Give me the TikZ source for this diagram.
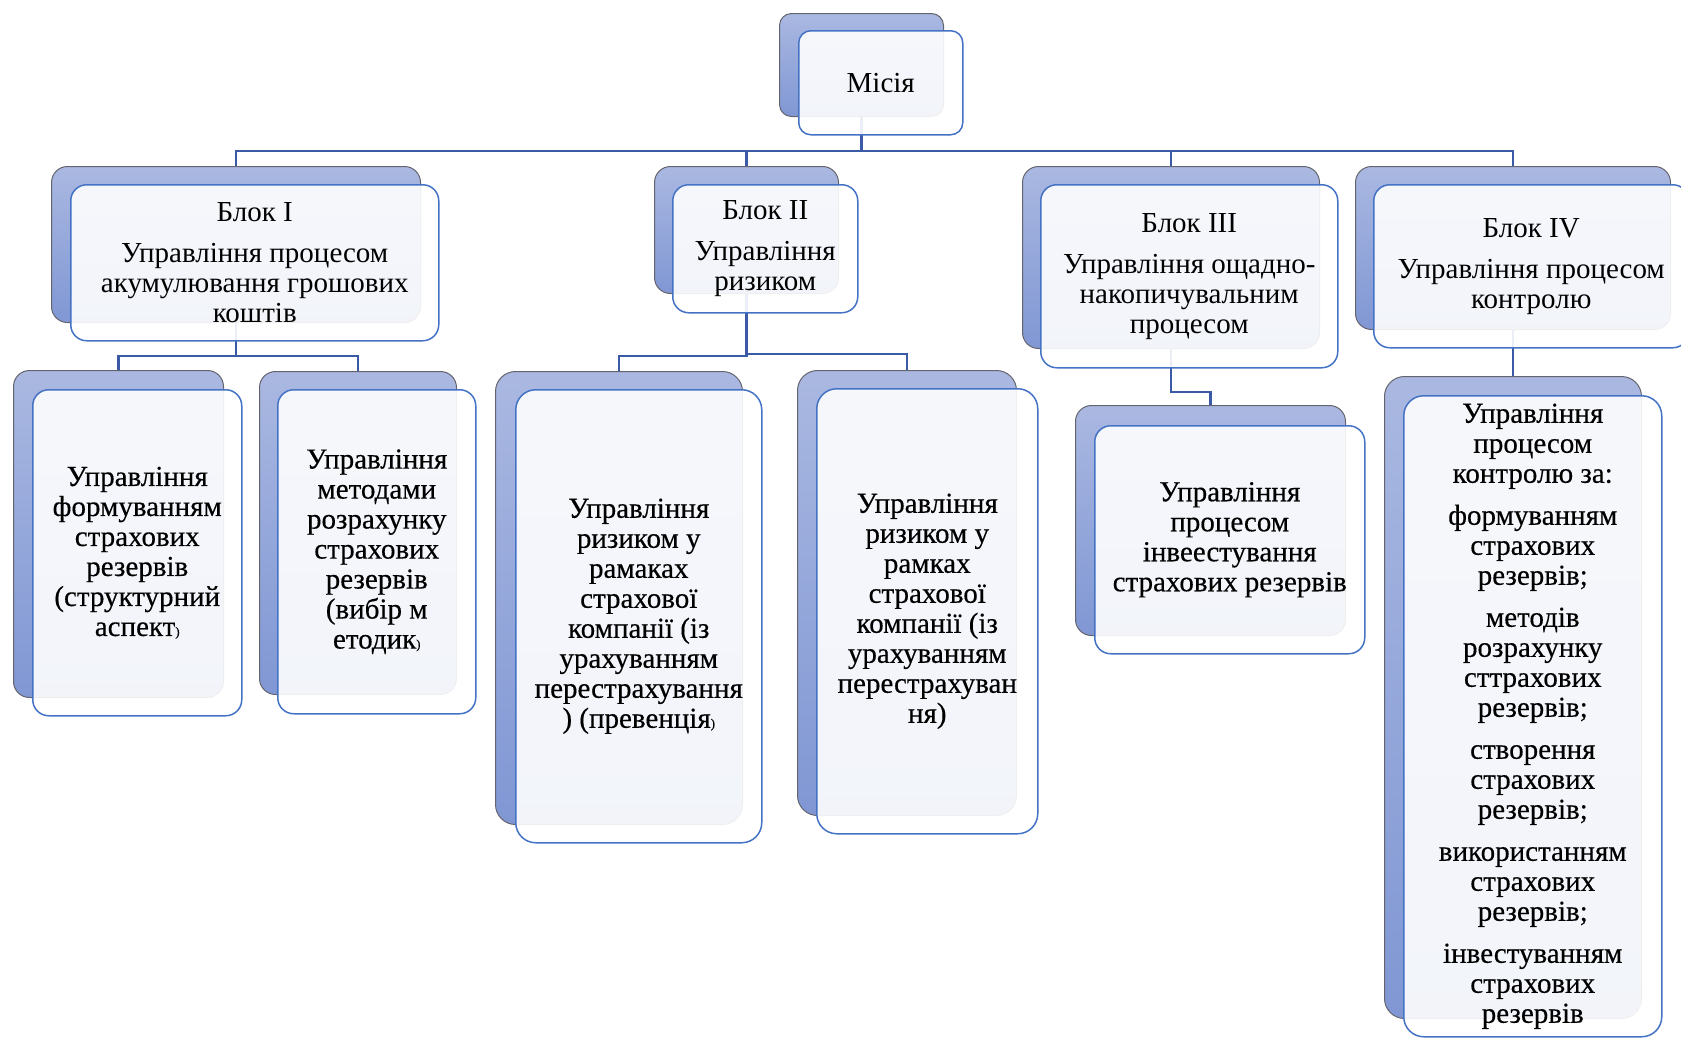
\documentclass[tikz,border=0pt]{standalone}
\usepackage{fontspec}
\setmainfont{Liberation Serif}
\newfontfamily\lowserif[FakeBold=0.35]{Liberation Serif}
\pgfdeclarelayer{bg}
\pgfsetlayers{bg,main}
\definecolor{backtop}{RGB}{170,184,225}
\definecolor{backbot}{RGB}{128,151,212}
\definecolor{backline}{RGB}{100,100,110}
\definecolor{frontline}{RGB}{68,114,196}
\definecolor{connline}{RGB}{58,90,165}
\newcommand\boxfont{\fontsize{29}{30}\selectfont}
\newcommand\lowboxfont{\lowserif\fontsize{29}{30}\selectfont}
\newcommand\smallparen{{\fontsize{13}{13}\selectfont)}}
\begin{document}
\begin{tikzpicture}[x=1pt,y=-1pt,
  backbox/.style={rectangle, rounded corners=16pt, draw=backline, line width=1pt,
    top color=backtop, bottom color=backbot, inner sep=0pt, anchor=north west},
  frontbox/.style={rectangle, rounded corners=16pt, draw=frontline, line width=1.5pt,
    fill=white, fill opacity=0.9, text opacity=1, inner sep=0pt, anchor=north west,
    align=center, font=\boxfont},
  lowbox/.style={frontbox, font=\lowboxfont},
  conn/.style={draw=connline, line width=2.2pt},
  topconn/.style={draw=connline, line width=2.8pt}]
\useasboundingbox (0,0) rectangle (1681,1037);
% Mission
\node[backbox, rounded corners=12pt, minimum width=164pt, minimum height=103pt] (mb) at (779,13) {};
\node[frontbox, rounded corners=12pt, minimum width=164pt, minimum height=104pt] (mf) at (798,30) {Місія};
% Block I
\node[backbox, minimum width=369pt, minimum height=156pt] (b1b) at (51,166) {};
\node[frontbox, minimum width=368pt, minimum height=156pt] (b1f) at (70,184)
  {Блок I\\[11pt]Управління процесом\\акумулювання грошових\\коштів};
% Block II
\node[backbox, minimum width=184pt, minimum height=127pt] (b2b) at (654,166) {};
\node[frontbox, minimum width=185pt, minimum height=128pt] (b2f) at (672,184)
  {Блок II\\[11pt]Управління\\ризиком};
% Block III
\node[backbox, minimum width=297pt, minimum height=182pt] (b3b) at (1022,166) {};
\node[frontbox, minimum width=297pt, minimum height=183pt] (b3f) at (1040,184)
  {Блок III\\[11pt]Управління ощадно-\\накопичувальним\\процесом};
% Block IV
\node[backbox, minimum width=315pt, minimum height=163pt] (b4b) at (1355,166) {};
\node[frontbox, minimum width=315pt, minimum height=163pt] (b4f) at (1373,184)
  {Блок IV\\[11pt]Управління процесом\\контролю};
% L1
\node[backbox, minimum width=210pt, minimum height=327pt] (l1b) at (13,370) {};
\node[lowbox, minimum width=209pt, minimum height=326pt] (l1f) at (32,389)
  {Управління\\формуванням\\страхових\\резервів\\(структурний\\аспект\smallparen};
% L2
\node[backbox, minimum width=197pt, minimum height=323pt] (l2b) at (259,371) {};
\node[lowbox, minimum width=198pt, minimum height=324pt] (l2f) at (277,389)
  {Управління\\методами\\розрахунку\\страхових\\резервів\\(вибір м\\етодик\smallparen};
% B2a
\node[backbox, rounded corners=20pt, minimum width=247pt, minimum height=453pt] (c2ab) at (495,371) {};
\node[lowbox, rounded corners=20pt, minimum width=246pt, minimum height=453pt] (c2af) at (515,389)
  {Управління\\ризиком у\\рамаках\\страхової\\компанії (із\\урахуванням\\перестрахування\\) (превенція\smallparen};
% B2b
\node[backbox, rounded corners=20pt, minimum width=219pt, minimum height=445pt] (c2bb) at (797,370) {};
\node[lowbox, rounded corners=20pt, minimum width=221pt, minimum height=445pt] (c2bf) at (816,388)
  {Управління\\ризиком у\\рамках\\страхової\\компанії (із\\урахуванням\\перестрахуван\\ня)};
% B3 child
\node[backbox, minimum width=270pt, minimum height=230pt] (c3b) at (1075,405) {};
\node[lowbox, minimum width=270pt, minimum height=228pt] (c3f) at (1094,425)
  {Управління\\процесом\\інвеестування\\страхових резервів};
% B4 child
\node[backbox, rounded corners=20pt, minimum width=257pt, minimum height=642pt] (c4b) at (1384,376) {};
\node[lowbox, rounded corners=20pt, minimum width=258pt, minimum height=641pt] (c4f) at (1403,395)
  {Управління\\процесом\\контролю за:\\[12pt]формуванням\\страхових\\резервів;\\[12pt]методів\\розрахунку\\сттрахових\\резервів;\\[12pt]створення\\страхових\\резервів;\\[12pt]використанням\\страхових\\резервів;\\[12pt]інвестуванням\\страхових\\резервів};
% connectors
\coordinate (bus0) at (0,151);
\coordinate (bus1) at (0,356);
\coordinate (bus2a) at (0,356);
\coordinate (bus2b) at (0,354);
\coordinate (bus3) at (0,392);
\begin{pgfonlayer}{bg}
  \fill[white] (0,0) rectangle (1681,1037);
  \draw[topconn] (mb.south) -- (mb.south |- bus0) -| (b1b.north);
  \draw[topconn] (mb.south) -- (mb.south |- bus0) -| (b2b.north);
  \draw[topconn] (mb.south) -- (mb.south |- bus0) -| (b3b.north);
  \draw[topconn] (mb.south) -- (mb.south |- bus0) -| (b4b.north);
  \draw[conn] (b1b.south) -- (b1b.south |- bus1) -| (l1b.north);
  \draw[conn] (b1b.south) -- (b1b.south |- bus1) -| (l2b.north);
  \draw[conn] (b2b.south) -- (b2b.south |- bus2a) -| (c2ab.north);
  \draw[conn] (b2b.south) -- (b2b.south |- bus2b) -| (c2bb.north);
  \draw[conn] (b3b.south) -- (b3b.south |- bus3) -| (c3b.north);
  \draw[conn] (b4b.south) -- (c4b.north);
\end{pgfonlayer}
\end{tikzpicture}
\end{document}
